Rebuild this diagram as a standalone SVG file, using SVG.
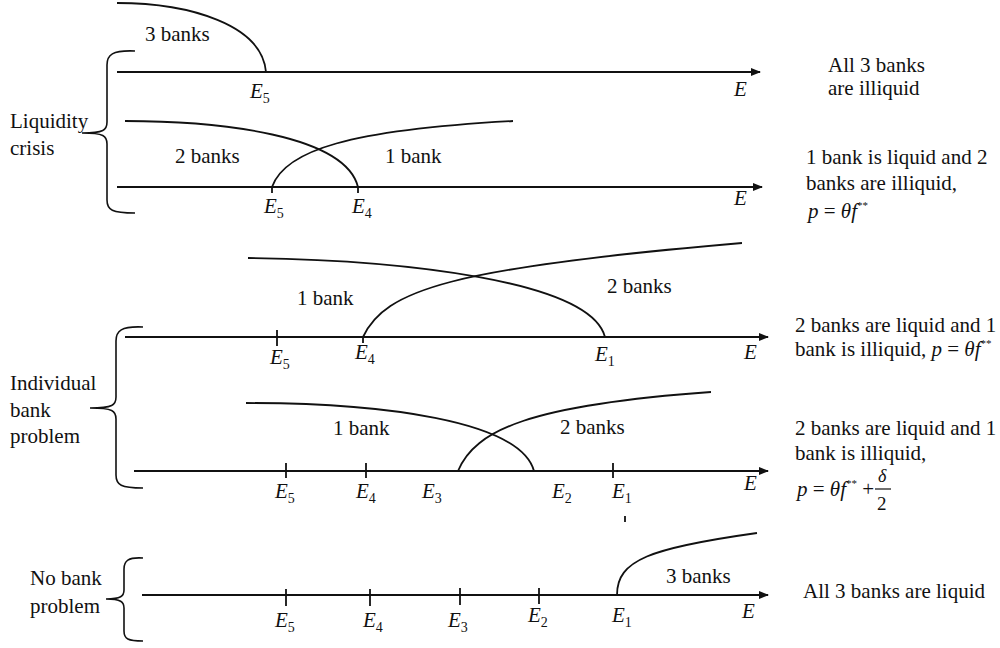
<svg xmlns="http://www.w3.org/2000/svg" width="1000" height="648" viewBox="0 0 1000 648" font-family="'Liberation Serif', 'DejaVu Serif', serif">
<style>
text{font-family:'Liberation Serif','Times New Roman','DejaVu Serif',serif;font-size:21px;fill:#111}
.i{font-style:italic}
.sub{font-size:14px;font-style:normal}
.sup{font-size:11px;font-style:normal}
.ax{stroke:#111;stroke-width:2;fill:none}
.cv{stroke:#111;stroke-width:1.8;fill:none}
.tk{stroke:#111;stroke-width:1.8}
.br{stroke:#111;stroke-width:1.6;fill:none}
</style>
<defs>
<marker id="arr" markerWidth="10" markerHeight="8" refX="9" refY="4" orient="auto" markerUnits="userSpaceOnUse">
<path d="M0,0 L10,4 L0,8 Z" fill="#111"/>
</marker>
</defs>
<rect width="1000" height="648" fill="#fff"/>

<g id="brackets">
<path class="br" d="M135,51 C112,50 107,55 107,65 L107,122 C107,130 104,133 82,133 C104,133 107,136 107,144 L107,200 C107,210 112,213 135,213"/>
<path class="br" d="M143,327 C121,326 116,331 116,341 L116,397 C116,405 113,408 90,408 C113,408 116,411 116,419 L116,475 C116,485 121,488 143,488"/>
<path class="br" d="M143,558 C128,557 124,561 124,569 L124,590 C124,596 121,599 106,599 C121,599 124,602 124,608 L124,631 C124,639 128,641 143,641"/>
</g>

<g id="left-labels">
<text x="10" y="128">Liquidity</text>
<text x="10" y="155">crisis</text>
<text x="10" y="390">Individual</text>
<text x="10" y="417">bank</text>
<text x="10" y="443">problem</text>
<text x="30" y="585">No bank</text>
<text x="30" y="613">problem</text>
</g>

<g id="connectors">
<line class="ax" x1="117" y1="72" x2="760" y2="72" marker-end="url(#arr)"/>
<line class="ax" x1="117" y1="187" x2="762" y2="187" marker-end="url(#arr)"/>
<line class="ax" x1="125" y1="337" x2="768" y2="337" marker-end="url(#arr)"/>
<line class="ax" x1="134" y1="471" x2="768" y2="471" marker-end="url(#arr)"/>
<line class="ax" x1="142" y1="595" x2="768" y2="595" marker-end="url(#arr)"/>
</g>

<g id="panel1">
<path class="cv" d="M117,3 C190,3 262,25 266,72"/>
<text x="145" y="41">3 banks</text>
<text class="i" x="250" y="98">E<tspan class="sub" dy="5">5</tspan></text>
<text class="i" x="734" y="96">E</text>
<text x="828" y="72">All 3 banks</text>
<text x="828" y="95">are illiquid</text>
</g>

<g id="panel2">
<path class="cv" d="M125,121 C220,121 345,135 358,187"/>
<path class="cv" d="M272,187 C285,150 350,130 513,121"/>
<line class="tk" x1="272" y1="187" x2="272" y2="193"/>
<line class="tk" x1="358" y1="187" x2="358" y2="193"/>
<text x="175" y="163">2 banks</text>
<text x="385" y="163">1 bank</text>
<text class="i" x="264" y="213">E<tspan class="sub" dy="5">5</tspan></text>
<text class="i" x="352" y="213">E<tspan class="sub" dy="5">4</tspan></text>
<text class="i" x="734" y="205">E</text>
<text x="806" y="164">1 bank is liquid and 2</text>
<text x="806" y="190">banks are illiquid,</text>
<text x="808" y="218"><tspan class="i">p</tspan> = <tspan class="i">θf</tspan><tspan class="sup" dy="-9">**</tspan></text>
</g>

<g id="panel3">
<path class="cv" d="M248,258 C400,260 590,280 605,337"/>
<path class="cv" d="M363,337 C385,290 450,268 742,243"/>
<line class="tk" x1="277" y1="330" x2="277" y2="346"/>
<line class="tk" x1="363" y1="337" x2="363" y2="343"/>
<text x="297" y="305">1 bank</text>
<text x="607" y="293">2 banks</text>
<text class="i" x="270" y="364">E<tspan class="sub" dy="5">5</tspan></text>
<text class="i" x="355" y="359">E<tspan class="sub" dy="5">4</tspan></text>
<text class="i" x="595" y="361">E<tspan class="sub" dy="5">1</tspan></text>
<text class="i" x="744" y="359">E</text>
<text x="795" y="332">2 banks are liquid and 1</text>
<text x="795" y="356">bank is illiquid,  <tspan class="i">p</tspan> = <tspan class="i">θf</tspan><tspan class="sup" dy="-9">**</tspan></text>
</g>

<g id="panel4">
<path class="cv" d="M246,403 C380,403 520,420 534,471"/>
<path class="cv" d="M458,471 C475,430 530,405 711,392"/>
<line class="tk" x1="286" y1="463" x2="286" y2="478"/>
<line class="tk" x1="366" y1="463" x2="366" y2="478"/>
<line class="tk" x1="613" y1="463" x2="613" y2="478"/>
<line class="tk" x1="625" y1="516" x2="625" y2="522" stroke-width="1.2"/>
<text x="333" y="435">1 bank</text>
<text x="560" y="434">2 banks</text>
<text class="i" x="275" y="498">E<tspan class="sub" dy="5">5</tspan></text>
<text class="i" x="356" y="498">E<tspan class="sub" dy="5">4</tspan></text>
<text class="i" x="422" y="498">E<tspan class="sub" dy="5">3</tspan></text>
<text class="i" x="552" y="498">E<tspan class="sub" dy="5">2</tspan></text>
<text class="i" x="612" y="498">E<tspan class="sub" dy="5">1</tspan></text>
<text class="i" x="744" y="490">E</text>
<text x="795" y="435">2 banks are liquid and 1</text>
<text x="795" y="460">bank is illiquid,</text>
<text x="797" y="496"><tspan class="i">p</tspan> = <tspan class="i">θf</tspan><tspan class="sup" dy="-9">**</tspan><tspan dy="9"> +</tspan></text>
<text class="i" x="878" y="482" style="font-size:18px">δ</text>
<line x1="875" y1="489" x2="891" y2="489" stroke="#111" stroke-width="1.2"/>
<text x="877" y="510" style="font-size:19px">2</text>
</g>

<g id="panel5">
<path class="cv" d="M617,595 C617,560 650,548 757,533"/>
<line class="tk" x1="286" y1="589" x2="286" y2="606"/>
<line class="tk" x1="370" y1="589" x2="370" y2="606"/>
<line class="tk" x1="460" y1="588" x2="460" y2="605"/>
<line class="tk" x1="539" y1="588" x2="539" y2="604"/>
<text x="666" y="583">3 banks</text>
<text class="i" x="275" y="627">E<tspan class="sub" dy="5">5</tspan></text>
<text class="i" x="363" y="627">E<tspan class="sub" dy="5">4</tspan></text>
<text class="i" x="448" y="627">E<tspan class="sub" dy="5">3</tspan></text>
<text class="i" x="528" y="622">E<tspan class="sub" dy="5">2</tspan></text>
<text class="i" x="612" y="622">E<tspan class="sub" dy="5">1</tspan></text>
<text class="i" x="742" y="618">E</text>
<text x="803" y="598">All 3 banks are liquid</text>
</g>
</svg>
